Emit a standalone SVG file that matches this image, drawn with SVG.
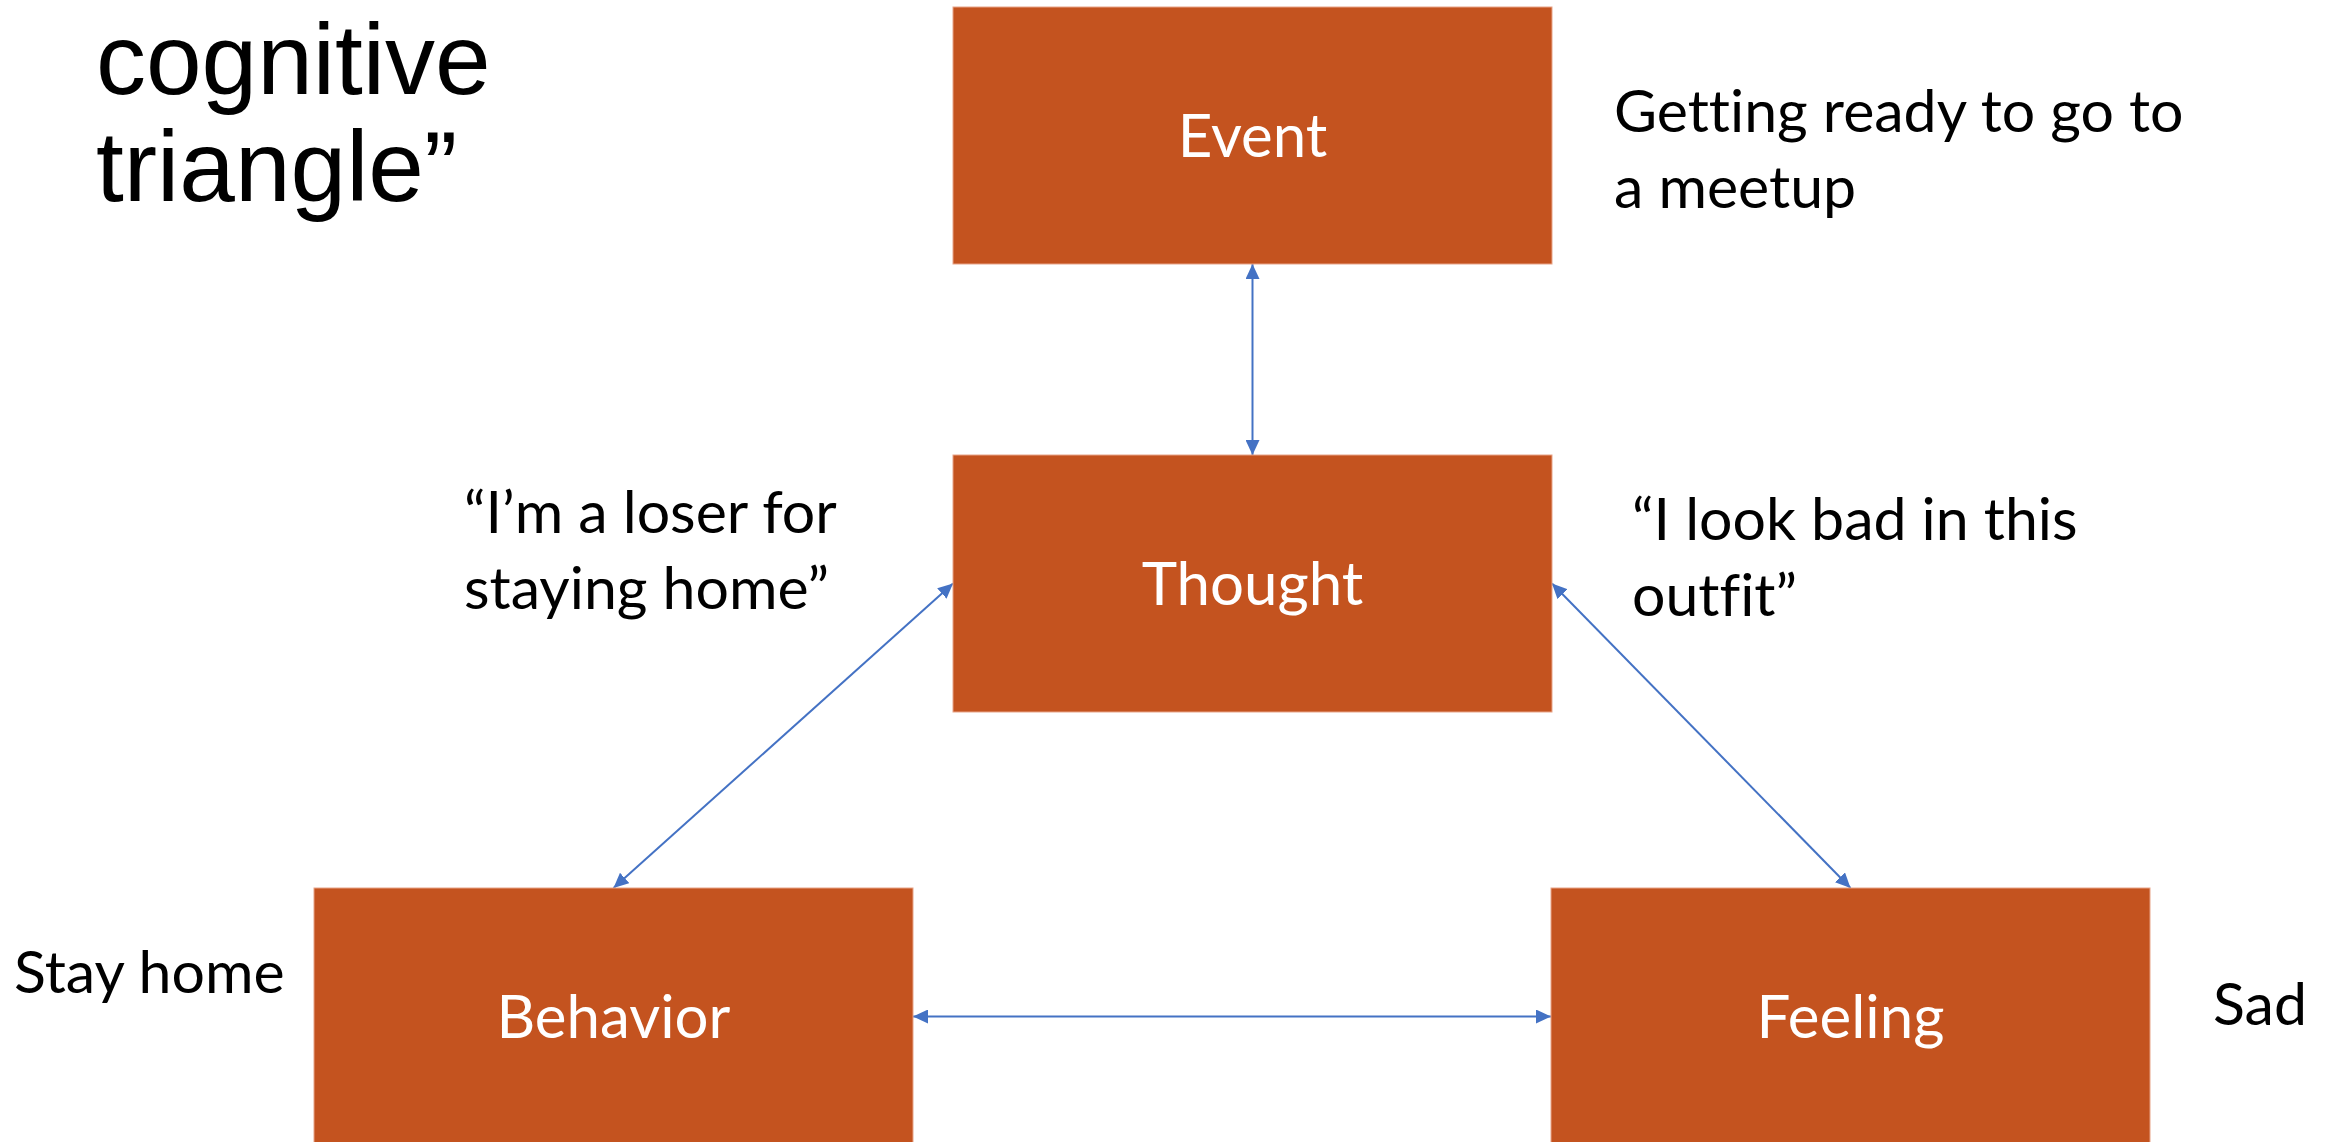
<svg xmlns="http://www.w3.org/2000/svg" width="2331" height="1142" viewBox="0 0 2331 1142">
<style>
.box{fill:#C4531F;stroke:#E8A488;stroke-width:1}
.lbl{font-family:Lato,"Open Sans",sans-serif;font-size:60px;fill:#FFFFFF;text-anchor:middle;font-variant-ligatures:none}
.txt{font-family:Lato,"Open Sans",sans-serif;font-size:59px;fill:#000000;font-variant-ligatures:none}
.title{font-family:"Liberation Sans",Arial,sans-serif;font-size:100px;fill:#000000}
.conn{stroke:#4472C4;stroke-width:2;fill:none;marker-start:url(#arr);marker-end:url(#arr)}
</style>
<defs>
<marker id="arr" markerUnits="userSpaceOnUse" markerWidth="16" markerHeight="14" refX="15" refY="7" orient="auto-start-reverse" viewBox="0 0 16 14">
<path d="M0,0 L15,7 L0,14 z" fill="#4472C4"/>
</marker>
</defs>
<rect width="2331" height="1142" fill="#FFFFFF"/>
<g id="title">
<text class="title" x="96" y="94">cognitive</text>
<text class="title" x="96" y="201">triangle”</text>
</g>
<g id="connectors">
<line class="conn" x1="1252.5" y1="264" x2="1252.5" y2="455"/>
<line class="conn" x1="953" y1="583.5" x2="613.5" y2="888"/>
<line class="conn" x1="1552" y1="583.5" x2="1850.5" y2="888"/>
<line class="conn" x1="913" y1="1016.5" x2="1551" y2="1016.5"/>
</g>
<g id="event">
<rect class="box" x="953" y="7" width="599" height="257"/>
<text class="lbl" x="1252.5" y="157">Event</text>
</g>
<g id="thought">
<rect class="box" x="953" y="455" width="599" height="257"/>
<text class="lbl" x="1252.5" y="605">Thought</text>
</g>
<g id="behavior">
<rect class="box" x="314" y="888" width="599" height="257"/>
<text class="lbl" x="613.5" y="1038">Behavior</text>
</g>
<g id="feeling">
<rect class="box" x="1551" y="888" width="599" height="257"/>
<text class="lbl" x="1850.5" y="1038">Feeling</text>
</g>
<g id="labels">
<text class="txt" x="1614" y="132">Getting ready to go to</text>
<text class="txt" x="1614" y="208">a meetup</text>
<text class="txt" x="464" y="533">“I’m a loser for</text>
<text class="txt" x="464" y="609">staying home”</text>
<text class="txt" x="1632" y="540">“I look bad in this</text>
<text class="txt" x="1632" y="616">outfit”</text>
<text class="txt" x="14" y="993">Stay home</text>
<text class="txt" x="2213" y="1025">Sad</text>
</g>
</svg>
